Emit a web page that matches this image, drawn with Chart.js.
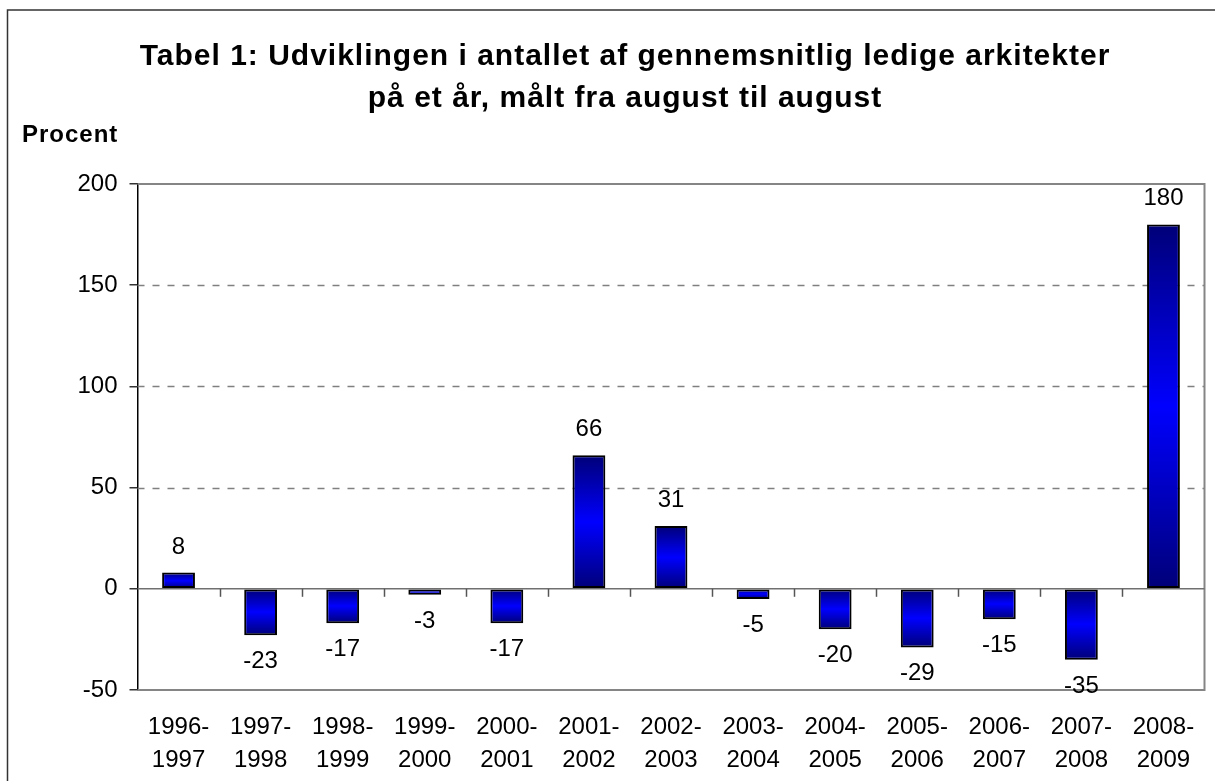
<!DOCTYPE html>
<html>
<head>
<meta charset="utf-8">
<script src="https://cdn.jsdelivr.net/npm/chart.js@4.4.1/dist/chart.umd.min.js"></script>
<style>
  html, body { margin: 0; padding: 0; background: #fff; }
  #wrap { width: 1215px; height: 781px; position: relative; }
</style>
</head>
<body>
<div id="wrap"><canvas id="c" width="1215" height="781"></canvas></div>
<script>
const categories = [
  ["1996-", "1997"], ["1997-", "1998"], ["1998-", "1999"], ["1999-", "2000"],
  ["2000-", "2001"], ["2001-", "2002"], ["2002-", "2003"], ["2003-", "2004"],
  ["2004-", "2005"], ["2005-", "2006"], ["2006-", "2007"], ["2007-", "2008"],
  ["2008-", "2009"]
];
const values = [8, -23, -17, -3, -17, 66, 31, -5, -20, -29, -15, -35, 180];
const yTicks = [-50, 0, 50, 100, 150, 200];
const titleLines = [
  "Tabel 1: Udviklingen i antallet af gennemsnitlig ledige arkitekter",
  "på et år, målt fra august til august"
];
const yAxisTitle = "Procent";

const FONT = "'Liberation Sans', Arial, Helvetica, sans-serif";
Chart.defaults.font.family = FONT;
Chart.defaults.font.size = 24;
Chart.defaults.color = '#000';

function barGradient(c) {
  if (c.type !== 'data') return '#0000ff';
  const ch = c.chart, y = ch.scales.y;
  if (!y || !ch.chartArea) return '#0000ff';
  const p0 = y.getPixelForValue(0), p1 = y.getPixelForValue(c.raw);
  const top = Math.min(p0, p1), bot = Math.max(p0, p1);
  if (bot - top < 1) return '#0000ff';
  const g = ch.ctx.createLinearGradient(0, top, 0, bot);
  g.addColorStop(0, '#000078');
  g.addColorStop(0.5, '#0000ff');
  g.addColorStop(1, '#000078');
  return g;
}

const decor = {
  id: 'decor',
  beforeDraw(chart) {
    const ctx = chart.ctx;
    ctx.save();
    ctx.fillStyle = '#fff';
    ctx.fillRect(0, 0, chart.width, chart.height);
    ctx.strokeStyle = '#333';
    ctx.lineWidth = 1.5;
    ctx.strokeRect(7.5, 10, 1300, 900);
    ctx.restore();
  },
  beforeDatasetsDraw(chart) {
    const ctx = chart.ctx, a = chart.chartArea, y = chart.scales.y, x = chart.scales.x;
    ctx.save();
    // dashed grid
    ctx.strokeStyle = '#808080';
    ctx.lineWidth = 1.3;
    ctx.setLineDash([7, 8]);
    yTicks.forEach(v => {
      if (v <= y.min || v >= y.max || v === 0) return;
      const py = Math.round(y.getPixelForValue(v)) + 0.5;
      ctx.beginPath(); ctx.moveTo(a.left, py); ctx.lineTo(a.right, py); ctx.stroke();
    });
    ctx.setLineDash([]);
    // plot border (top, right, bottom)
    ctx.lineWidth = 2;
    ctx.strokeStyle = '#858585';
    ctx.beginPath();
    ctx.moveTo(a.left, a.top); ctx.lineTo(a.right, a.top);
    ctx.lineTo(a.right, a.bottom); ctx.lineTo(a.left, a.bottom);
    ctx.stroke();
    // zero line
    const z = y.getPixelForValue(0);
    ctx.lineWidth = 1.5;
    ctx.strokeStyle = '#707070';
    ctx.beginPath(); ctx.moveTo(a.left, z); ctx.lineTo(a.right, z); ctx.stroke();
    // category tick marks on zero line
    ctx.strokeStyle = '#555';
    for (let i = 1; i < values.length; i++) {
      const px = Math.round((x.getPixelForValue(i - 1) + x.getPixelForValue(i)) / 2) + 0.5;
      ctx.beginPath(); ctx.moveTo(px, z); ctx.lineTo(px, z + 8); ctx.stroke();
    }
    ctx.restore();
  },
  afterDatasetsDraw(chart) {
    const ctx = chart.ctx, meta = chart.getDatasetMeta(0);
    ctx.save();
    ctx.font = '24px ' + FONT;
    ctx.fillStyle = '#000';
    ctx.textAlign = 'center';
    ctx.textBaseline = 'alphabetic';
    meta.data.forEach((bar, i) => {
      const v = values[i];
      const px = bar.x;
      if (v >= 0) ctx.fillText(String(v), px, bar.y - 19);
      else ctx.fillText(String(v), px, bar.y + 33);
    });
    ctx.restore();
  },
  afterDraw(chart) {
    const ctx = chart.ctx;
    ctx.save();
    ctx.fillStyle = '#000';
    try { ctx.letterSpacing = '1px'; } catch (e) {}
    ctx.font = 'bold 30px ' + FONT;
    ctx.textAlign = 'center';
    ctx.textBaseline = 'alphabetic';
    ctx.fillText(titleLines[0], 625, 65);
    ctx.fillText(titleLines[1], 625, 107);
    ctx.font = 'bold 24px ' + FONT;
    ctx.textAlign = 'left';
    ctx.fillText(yAxisTitle, 22, 142);
    ctx.restore();
  }
};

new Chart(document.getElementById('c'), {
  type: 'bar',
  data: {
    labels: categories,
    datasets: [{
      data: values,
      backgroundColor: barGradient,
      borderColor: '#000',
      borderWidth: 2,
      borderSkipped: false,
      barPercentage: 0.40,
      categoryPercentage: 1.0
    }]
  },
  options: {
    responsive: false,
    animation: false,
    events: [],
    layout: { padding: { top: 184, right: 9, bottom: 0, left: 0 } },
    plugins: { legend: { display: false }, tooltip: { enabled: false }, title: { display: false } },
    scales: {
      x: {
        offset: true,
        grid: { display: false, drawTicks: false },
        border: { display: false },
        ticks: { padding: 20.5, maxRotation: 0, autoSkip: false, font: { size: 24, lineHeight: '33px' }, color: '#000' },
        afterFit(s) { s.height = 91; }
      },
      y: {
        min: -50, max: 200,
        afterBuildTicks(s) { s.ticks = yTicks.map(v => ({ value: v })); },
        grid: { display: true, drawOnChartArea: false, drawTicks: true, tickLength: 8, color: '#333', lineWidth: 1.5 },
        border: { display: true, color: '#000', width: 1.5 },
        ticks: { padding: 12, font: { size: 24 }, color: '#000' },
        afterFit(s) { s.width = 137.5; }
      }
    }
  },
  plugins: [decor]
});
</script>
</body>
</html>
